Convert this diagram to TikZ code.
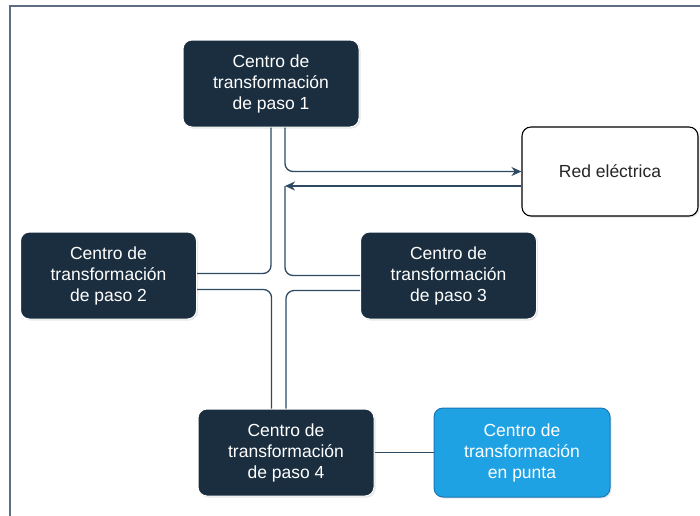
\documentclass[tikz,border=0pt]{standalone}
\usepackage{fontspec}
\setmainfont{Liberation Sans}
\usetikzlibrary{arrows.meta,shadows}
\definecolor{cdark}{HTML}{1A2E3F}
\definecolor{cline}{HTML}{2D4A62}
\definecolor{cblue}{HTML}{1FA2E3}
\definecolor{cblueb}{HTML}{1878B8}
\definecolor{cframe}{HTML}{5C6C83}
\begin{document}
\begin{tikzpicture}[x=1pt,y=-1pt,
  ct/.style={rounded corners=9pt, minimum width=176pt, minimum height=87pt, align=center,
    font=\fontsize{17.5}{21}\selectfont,
    drop shadow={opacity=0.2, shadow xshift=1.5pt, shadow yshift=-1.5pt}},
  paso/.style={ct, fill=cdark, draw=white, line width=1pt, text=white},
  red/.style={ct, fill=white, draw=black, line width=1.1pt, text=black!85, minimum height=89pt},
  punta/.style={ct, fill=cblue, draw=cblueb, line width=1pt, text=white, minimum height=89pt},
  conn/.style={draw=cline, line width=1.3pt, rounded corners=8pt},
  arr/.style={conn, -{Stealth[length=10pt,width=9pt]}}]
\useasboundingbox (0,0) rectangle (700,515);
%FRAME
\draw[cframe, line width=2pt] (10,6) rectangle (720,530);

%CENTROS
\node[paso] (paso1) at (271,83.5) {Centro de\\transformación\\de paso 1};
\node[red] (red) at (610,171.5) {Red eléctrica};
\node[paso] (paso2) at (108.5,275.5) {Centro de\\transformación\\de paso 2};
\node[paso] (paso3) at (448.5,275.5) {Centro de\\transformación\\de paso 3};
\node[paso] (paso4) at (286,452.5) {Centro de\\transformación\\de paso 4};
\node[punta] (punta) at (522,452.5) {Centro de\\transformación\\en punta};

%CONEXIONES
\coordinate (junta) at ([xshift=14pt]paso1.south |- 0,186);
\draw[conn] (paso1.south) |- ([yshift=2pt]paso2.east);
\draw[arr] ([xshift=14pt]paso1.south) |- (red.west);
\draw[arr] (red.west |- junta) -- (junta);
\draw[conn] (paso3.west) -| (junta);
\draw[conn] ([yshift=-14pt]paso2.east) -| ([xshift=-14.5pt]paso4.north);
\draw[conn] ([yshift=-15pt]paso3.west) -| (paso4.north);
\draw[conn] (paso4) -- (punta);
\end{tikzpicture}
\end{document}
